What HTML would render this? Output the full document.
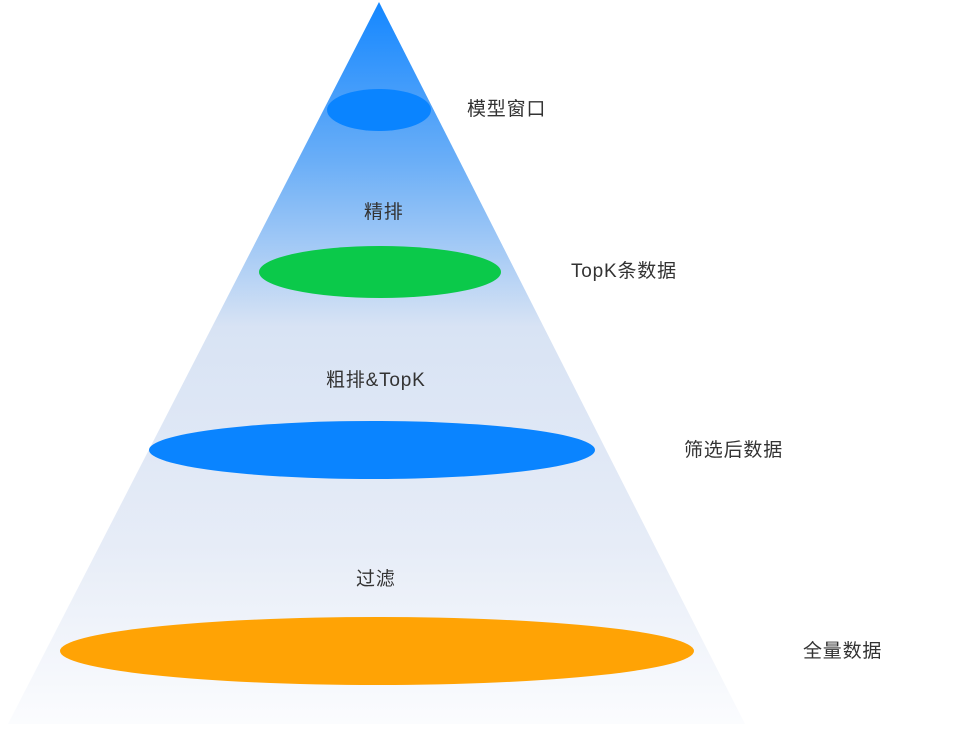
<!DOCTYPE html>
<html><head><meta charset="utf-8"><style>
html,body{margin:0;padding:0;background:#fff;width:956px;height:736px;overflow:hidden}
svg text{font-family:"Liberation Sans","Noto Sans CJK SC",sans-serif;font-size:19px;letter-spacing:0.8px;fill:#333}
</style></head><body>
<svg width="956" height="736" viewBox="0 0 956 736">
<defs>
<linearGradient id="g" x1="0" y1="0" x2="0" y2="1">
<stop offset="0" stop-color="#1487ff"/>
<stop offset="0.22" stop-color="#6aaef7"/>
<stop offset="0.45" stop-color="#d8e3f4"/>
<stop offset="0.75" stop-color="#e6ecf7"/>
<stop offset="1" stop-color="#fbfcfe"/>
</linearGradient>
</defs>
<polygon points="379,2 745,724 8,724" fill="url(#g)"/>
<ellipse cx="379" cy="110" rx="52" ry="21" fill="#0a84ff"/>
<ellipse cx="380" cy="272" rx="121" ry="26" fill="#0bc94a"/>
<ellipse cx="372" cy="450" rx="223" ry="29" fill="#0a84ff"/>
<ellipse cx="377" cy="651" rx="317" ry="34" fill="#ffa305"/>
<text x="467" y="115">模型窗口</text>
<text x="364" y="218">精排</text>
<text x="571" y="277">TopK条数据</text>
<text x="326" y="386">粗排&amp;TopK</text>
<text x="684" y="456">筛选后数据</text>
<text x="356" y="585">过滤</text>
<text x="803" y="657">全量数据</text>
</svg>
</body></html>
